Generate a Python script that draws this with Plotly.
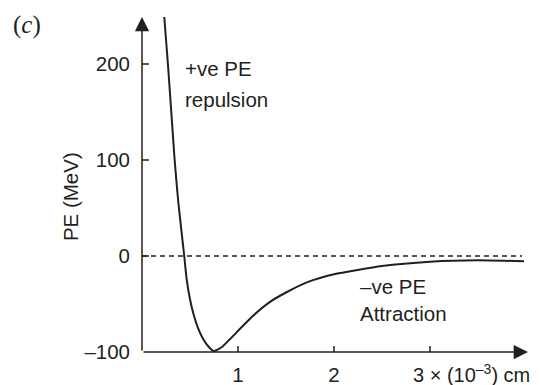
import plotly.graph_objects as go

# Curve data (x in 10^-3 cm, PE in MeV)
sep = [0.232, 0.27, 0.305, 0.34, 0.378, 0.44, 0.465, 0.50, 0.535, 0.587, 0.64,
       0.69, 0.745, 0.83, 0.917, 0.99, 1.16, 1.33, 1.51, 1.73, 2.0, 2.5, 3.0,
       3.5, 3.98]
pe = [249, 200, 150, 100, 56, 0, -24, -45, -60, -76, -87,
      -94, -99, -95, -86.5, -79, -62, -48, -37.5, -27, -19, -10.5, -6,
      -4.5, -5.5]

x_ticks = [1, 2]
x_ticklabels = ["1", "2"]
x_tick_marks = [1, 2, 3]
y_ticks = [-100, 0, 100, 200]
y_ticklabels = ["\u2013100", "0", "100", "200"]
y_tick_marks = [0, 100, 200]

INK = "#231f20"
FONT = "Liberation Sans"

X_MAX = 4.104
Y_MIN, Y_MAX = -100, 256.25

fig = go.Figure()
fig.add_trace(go.Scatter(x=sep, y=pe, mode="lines",
                         line=dict(color=INK, width=2, shape="spline", smoothing=0.5),
                         hoverinfo="skip", showlegend=False, cliponaxis=False))

shapes = []
# dashed zero line
shapes.append(dict(type="line", xref="x", yref="y", x0=0, x1=3.96, y0=0, y1=0,
                   line=dict(color=INK, width=1.4, dash="5px,4px")))
# tick marks crossing the axes
for v in x_tick_marks:
    shapes.append(dict(type="line", xref="x", yref="y", x0=v, x1=v,
                       ysizemode="pixel", yanchor=Y_MIN, y0=-6, y1=6,
                       line=dict(color=INK, width=1.5)))
for v in y_tick_marks:
    shapes.append(dict(type="line", xref="x", yref="y", y0=v, y1=v,
                       xsizemode="pixel", xanchor=0, x0=-8, x1=7,
                       line=dict(color=INK, width=1.5)))

annotations = []
# axis arrows
annotations.append(dict(x=4.02, y=Y_MIN, ax=0, ay=Y_MIN, xref="x", yref="y",
                        axref="x", ayref="y", text="", showarrow=True,
                        arrowhead=2, arrowsize=1.9, arrowwidth=1.5, arrowcolor=INK,
                        standoff=0, startstandoff=0))
annotations.append(dict(x=0, y=249, ax=0, ay=Y_MIN, xref="x", yref="y",
                        axref="x", ayref="y", text="", showarrow=True,
                        arrowhead=2, arrowsize=1.9, arrowwidth=1.5, arrowcolor=INK,
                        standoff=0, startstandoff=0))

tf = dict(family=FONT, size=20.5, color=INK)
annotations += [
    dict(x=0.43, y=195, xref="x", yref="y", text="+ve PE", showarrow=False,
         xanchor="left", yanchor="middle", font=tf),
    dict(x=0.43, y=163, xref="x", yref="y", text="repulsion", showarrow=False,
         xanchor="left", yanchor="middle", font=tf),
    dict(x=2.255, y=-32, xref="x", yref="y", text="\u2013ve PE", showarrow=False,
         xanchor="left", yanchor="middle", font=tf),
    dict(x=2.255, y=-60, xref="x", yref="y", text="Attraction", showarrow=False,
         xanchor="left", yanchor="middle", font=tf),
    dict(x=-0.1827, y=0.453, xref="paper", yref="paper", text="PE (MeV)",
         showarrow=False, textangle=-90, xanchor="center", yanchor="middle", font=tf),
    dict(x=2.80, y=Y_MIN, xref="x", yref="y",
         text="3 \u00d7 (10<sup>\u20133</sup>) cm", showarrow=False,
         xanchor="left", yanchor="top", yshift=-7,
         font=dict(family=FONT, size=20, color=INK)),
    dict(x=-0.292, y=0.956, xref="paper", yref="paper", text="(<i>c</i>)",
         showarrow=False, xanchor="center", yanchor="middle",
         font=dict(family="Liberation Serif", size=25, color=INK)),
]

fig.update_layout(
    width=542, height=385,
    margin=dict(l=142, r=6, t=10, b=33, autoexpand=False),
    paper_bgcolor="white", plot_bgcolor="white",
    shapes=shapes, annotations=annotations,
    xaxis=dict(range=[0, X_MAX], showgrid=False, zeroline=False, showline=False,
               tickvals=x_ticks, ticktext=x_ticklabels, ticks="", automargin=False,
               ticklabelstandoff=8, tickfont=tf),
    yaxis=dict(range=[Y_MIN, Y_MAX], showgrid=False, zeroline=False, showline=False,
               tickvals=y_ticks, ticktext=y_ticklabels, ticks="", automargin=False,
               ticklabelstandoff=11, tickfont=tf),
)

fig.write_html("out.html", config={"displayModeBar": False},
               post_script="document.body.style.margin='0';document.body.style.overflow='hidden';")
